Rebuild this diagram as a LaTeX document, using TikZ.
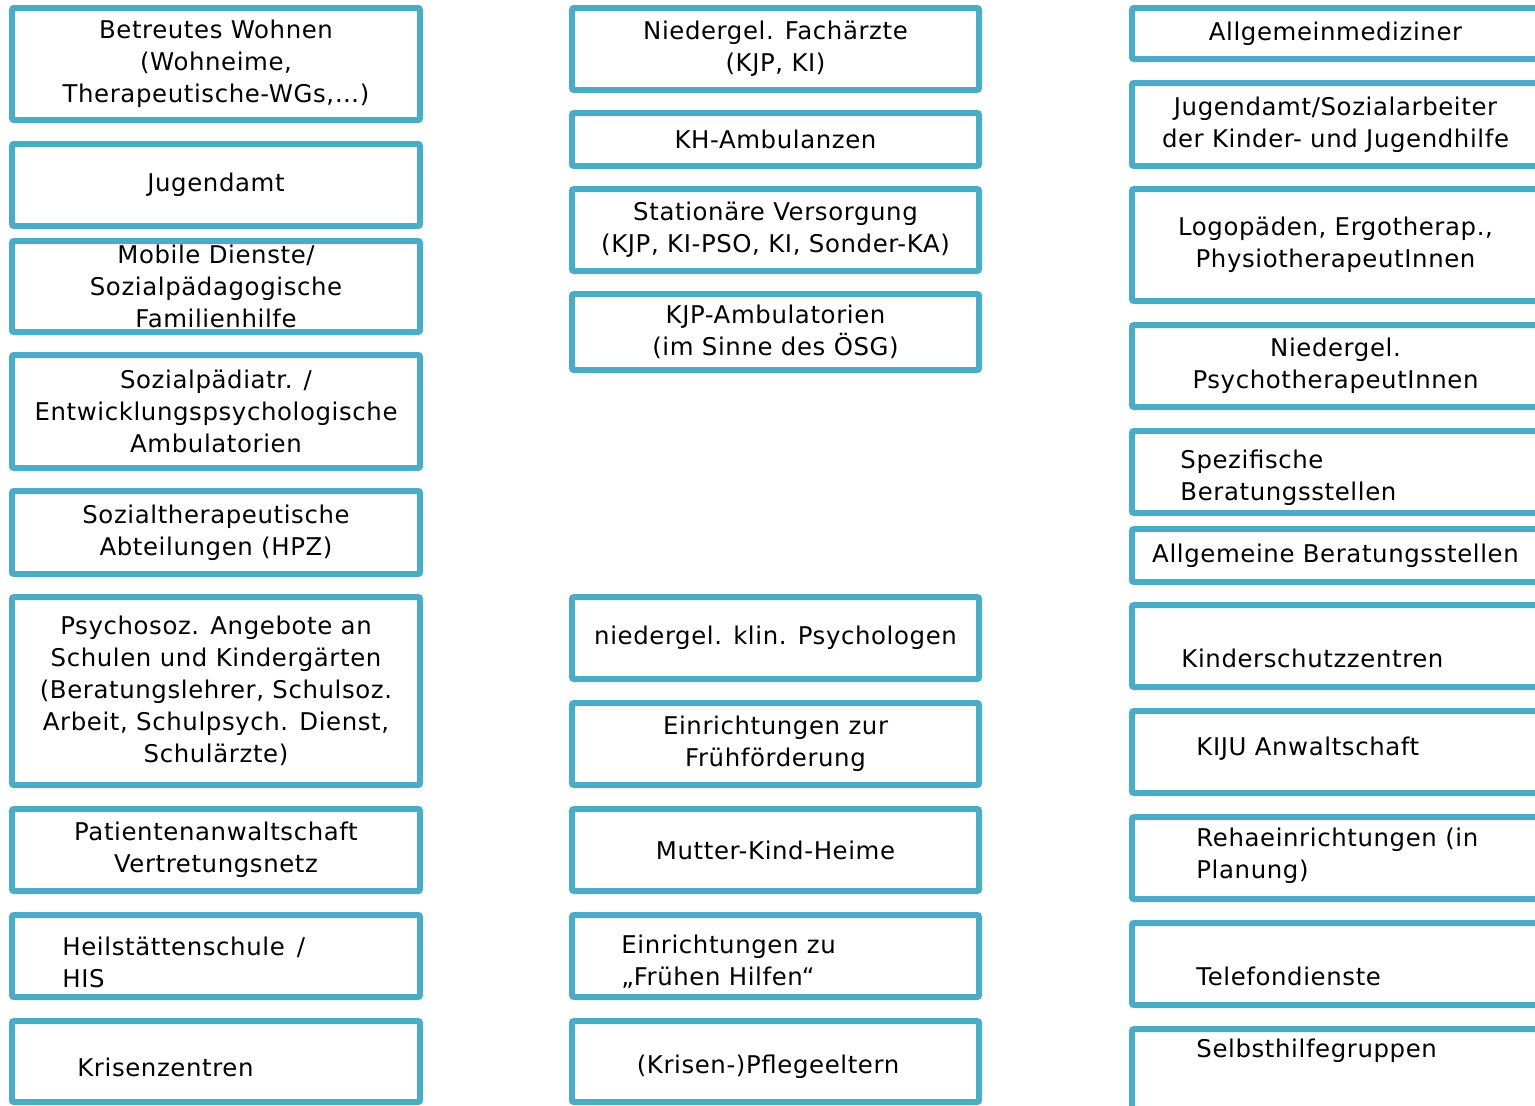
\documentclass[tikz,border=0pt]{standalone}
\usepackage{fontspec}
\setmainfont[LetterSpace=2.5]{DejaVu Sans}
\definecolor{rahmen}{HTML}{4BACC6}
\tikzset{%
  box/.style  = {shape=rectangle, draw=rahmen, line width=3pt,%
                 rounded corners=1pt, fill=white, align=center,%
                 inner sep=0pt, font=\fontsize{12.2}{16}\selectfont},%
  lbox/.style = {box, minimum width=204pt},%
  mbox/.style = {box, minimum width=203.5pt},%
  rbox/.style = {box, minimum width=203.5pt},%
  txt/.style  = {align=left, inner sep=0pt, font=\fontsize{12.2}{16}\selectfont}%
}
\begin{document}
\begin{tikzpicture}[x=0.5pt,y=-0.5pt]
	\useasboundingbox (0,0) rectangle (1535,1105);
	\clip (0,0) rectangle (1535,1105);
	% linke Spalte
	\node[lbox, minimum height=56pt]   (l1) at (216,64)     {Betreutes Wohnen\\(Wohneime,\\Therapeutische-WGs,…)};
	\node[lbox, minimum height=41pt]   (l2) at (216,185)    {Jugendamt};
	\node[lbox, minimum height=45.5pt] (l3) at (216,286.5)  {Mobile Dienste/\\Sozialpädagogische\\Familienhilfe};
	\node[lbox, minimum height=56.5pt] (l4) at (216,411.5)  {Sozialpädiatr. /\\Entwicklungspsychologische\\Ambulatorien};
	\node[lbox, minimum height=41.5pt] (l5) at (216,532.5)  {Sozialtherapeutische\\Abteilungen (HPZ)};
	\node[lbox, minimum height=94pt]   (l6) at (216,691)    {Psychosoz. Angebote an\\Schulen und Kindergärten\\(Beratungslehrer, Schulsoz.\\Arbeit, Schulpsych. Dienst,\\Schulärzte)};
	\node[lbox, minimum height=41pt]   (l7) at (216,850)    {Patientenanwaltschaft\\Vertretungsnetz};
	\node[lbox, minimum height=41pt]   (l8) at (216,956)    {};
	\node[lbox, minimum height=40.5pt] (l9) at (216,1061.5) {};
	\node[txt, anchor=west] (l8t) at (62,962)  {Heilstättenschule\hspace{0.5em}/\\HIS};
	\node[txt, anchor=west] (l9t) at (77,1067) {Krisenzentren};
	% mittlere Spalte
	\node[mbox, minimum height=41pt]   (m1) at (775.5,49)     {Niedergel. Fachärzte\\(KJP, KI)};
	\node[mbox, minimum height=26.5pt] (m2) at (775.5,139.5)  {KH-Ambulanzen};
	\node[mbox, minimum height=41pt]   (m3) at (775.5,230)    {Stationäre Versorgung\\(KJP, KI-PSO, KI, Sonder-KA)};
	\node[mbox, minimum height=38pt]   (m4) at (775.5,332)    {KJP-Ambulatorien\\(im Sinne des ÖSG)};
	\node[mbox, minimum height=41pt]   (m5) at (775.5,638)    {niedergel. klin. Psychologen};
	\node[mbox, minimum height=41pt]   (m6) at (775.5,744)    {Einrichtungen zur\\Frühförderung};
	\node[mbox, minimum height=41pt]   (m7) at (775.5,850)    {Mutter-Kind-Heime};
	\node[mbox, minimum height=41pt]   (m8) at (775.5,956)    {};
	\node[mbox, minimum height=40.5pt] (m9) at (775.5,1061.5) {};
	\node[txt, anchor=west] (m8t) at (621,962)  {Einrichtungen zu\\„Frühen Hilfen“};
	\node[txt]              (m9t) at (768,1067) {(Krisen-)Pflegeeltern};
	% rechte Spalte
	\node[rbox, minimum height=25.5pt] (r1)  at (1335.5,33.5)   {Allgemeinmediziner};
	\node[rbox, minimum height=41.5pt] (r2)  at (1335.5,124.5)  {Jugendamt/Sozialarbeiter\\der Kinder- und Jugendhilfe};
	\node[rbox, minimum height=56pt]   (r3)  at (1335.5,245)    {Logopäden, Ergotherap.,\\PhysiotherapeutInnen};
	\node[rbox, minimum height=41pt]   (r4)  at (1335.5,366)    {Niedergel.\\PsychotherapeutInnen};
	\node[rbox, minimum height=41pt]   (r5)  at (1335.5,472)    {};
	\node[rbox, minimum height=26.5pt] (r6)  at (1335.5,555.5)  {Allgemeine Beratungsstellen};
	\node[rbox, minimum height=41pt]   (r7)  at (1335.5,646)    {};
	\node[rbox, minimum height=41pt]   (r8)  at (1335.5,752)    {};
	\node[rbox, minimum height=41pt]   (r9)  at (1335.5,858)    {};
	\node[rbox, minimum height=41pt]   (r10) at (1335.5,964)    {};
	\node[rbox, minimum height=50.5pt] (r11) at (1335.5,1079.5) {};
	\node[txt, anchor=west] (r5t)  at (1180,478)  {Spezifische\\Beratungsstellen};
	\node[txt, anchor=west] (r7t)  at (1181,658)  {Kinderschutzzentren};
	\node[txt, anchor=west] (r8t)  at (1196,749)  {KIJU Anwaltschaft};
	\node[txt, anchor=west] (r9t)  at (1196,856)  {Rehaeinrichtungen (in\\Planung)};
	\node[txt, anchor=west] (r10t) at (1196,976)  {Telefondienste};
	\node[txt, anchor=west] (r11t) at (1196,1051) {Selbsthilfegruppen};
\end{tikzpicture}
\end{document}
